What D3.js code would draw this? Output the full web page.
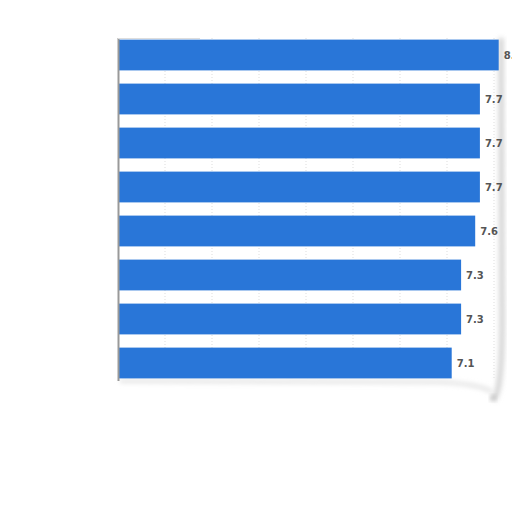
<!DOCTYPE html>
<html>
<head>
<meta charset="utf-8">
<script src="https://cdn.jsdelivr.net/npm/d3@7/dist/d3.min.js"></script>
<style>
  html, body { margin: 0; padding: 0; background: #fff; }
</style>
</head>
<body>
<svg id="chart" width="512" height="512"></svg>
<script>
// values, top to bottom
const categories = ["A", "B", "C", "D", "E", "F", "G", "H"];
const values = [8.1, 7.7, 7.7, 7.7, 7.6, 7.3, 7.3, 7.1];
const gridTicks = [1, 2, 3, 4, 5, 6, 7, 8];

const width = 512;
const height = 512;

const svg = d3.select("#chart");

const x = d3.scaleLinear()
  .domain([0, 10])
  .range([118, 588]);

const y = d3.scaleBand()
  .domain(categories)
  .range([33, 385])
  .paddingInner(0.3)
  .paddingOuter(0.15);

const defs = svg.append("defs");
defs.append("filter")
  .attr("id", "blur")
  .attr("x", "-50%").attr("y", "-50%")
  .attr("width", "200%").attr("height", "200%")
  .append("feGaussianBlur")
  .attr("stdDeviation", 2.5);

// soft page shadow on right edge and bottom
svg.append("path")
  .attr("d", "M501,38 L502,300 Q503,380 496,395 L494,400")
  .attr("fill", "none")
  .attr("stroke", "#d0d0d0")
  .attr("stroke-width", 5)
  .attr("filter", "url(#blur)");

svg.append("path")
  .attr("d", "M120,381 L440,382 Q480,384 492,392")
  .attr("fill", "none")
  .attr("stroke", "#dcdcdc")
  .attr("stroke-width", 3)
  .attr("filter", "url(#blur)");

svg.append("circle")
  .attr("cx", 493).attr("cy", 398).attr("r", 2.5)
  .attr("fill", "#b0b0b0")
  .attr("filter", "url(#blur)");

// dotted grid
svg.append("g")
  .selectAll("line")
  .data(gridTicks)
  .join("line")
  .attr("x1", d => x(d)).attr("x2", d => x(d))
  .attr("y1", 38).attr("y2", 380)
  .attr("stroke", "#ddd")
  .attr("stroke-width", 1)
  .attr("stroke-dasharray", "1,2");

// bars
svg.append("g")
  .selectAll("rect")
  .data(values)
  .join("rect")
  .attr("x", x(0))
  .attr("y", (d, i) => y(categories[i]))
  .attr("width", d => x(d) - x(0))
  .attr("height", y.bandwidth())
  .attr("fill", "#2976d8");

// value labels
svg.append("g")
  .selectAll("text")
  .data(values)
  .join("text")
  .attr("x", d => x(d) + 5)
  .attr("y", (d, i) => y(categories[i]) + y.bandwidth() / 2)
  .attr("dy", "0.35em")
  .attr("font-family", "DejaVu Sans, sans-serif")
  .attr("font-size", 10)
  .attr("font-weight", "bold")
  .attr("fill", "#555")
  .text(d => d.toFixed(1));

// left axis line
svg.append("line")
  .attr("x1", 118.5).attr("x2", 118.5)
  .attr("y1", 38).attr("y2", 381)
  .attr("stroke", "#999")
  .attr("stroke-width", 2);

svg.append("line")
  .attr("x1", 118).attr("x2", 200)
  .attr("y1", 38.5).attr("y2", 38.5)
  .attr("stroke", "#ddd")
  .attr("stroke-width", 1);
</script>
</body>
</html>
